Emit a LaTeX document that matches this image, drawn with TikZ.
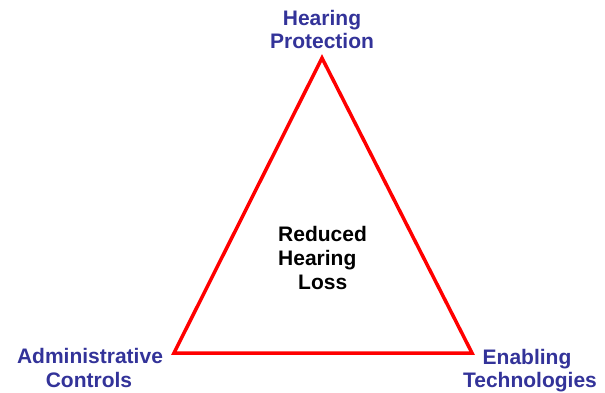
\documentclass[tikz,border=0pt]{standalone}
\usepackage{fontspec}
\setmainfont{Liberation Sans}
\definecolor{lblue}{HTML}{333399}
\definecolor{tred}{HTML}{FF0000}
\begin{document}
\begin{tikzpicture}[x=1pt,y=-1pt,
  lbl/.style={font=\fontsize{21}{24}\selectfont\bfseries, text=lblue, inner sep=0pt, anchor=base},
  ctr/.style={font=\fontsize{21}{24}\selectfont\bfseries, text=black, inner sep=0pt, anchor=base west},
  tri/.style={draw=tred, line width=3.5pt, line join=miter}]
\useasboundingbox (0,0) rectangle (605,393);
\coordinate (top) at (322,58);
\coordinate (bl) at (174,353);
\coordinate (br) at (472,353);
\draw[tri] (top) -- (bl) -- (br) -- cycle;
\node[lbl] (hp1) at (322,26) {Hearing};
\node[lbl] (hp2) at (322,49) {Protection};
\node[lbl] (ac1) at (90,363) {Administrative};
\node[lbl] (ac2) at (89,387) {Controls};
\node[lbl] (et1) at (527,364) {Enabling};
\node[lbl] (et2) at (530,387) {Technologies};
\node[ctr] (c1) at (278,241) {Reduced};
\node[ctr] (c2) at (278,265) {Hearing};
\node[ctr] (c3) at (298,289) {Loss};
\end{tikzpicture}
\end{document}
